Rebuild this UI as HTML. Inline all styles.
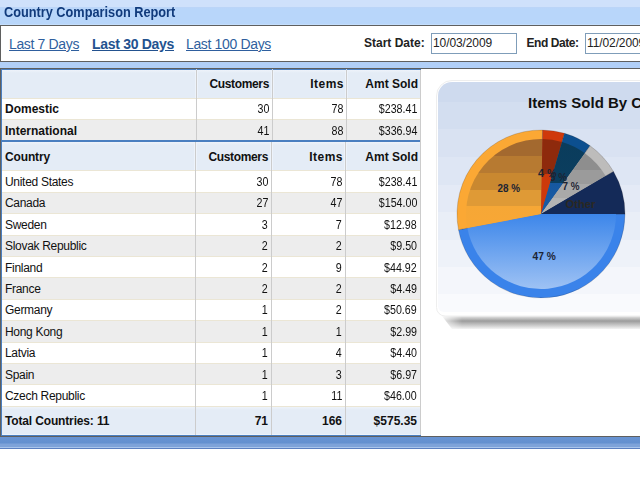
<!DOCTYPE html>
<html><head><meta charset="utf-8">
<style>
*{margin:0;padding:0;box-sizing:border-box}
html,body{width:640px;height:480px;overflow:hidden;background:#fff;font-family:"Liberation Sans",sans-serif;}
.a{position:absolute}
.hdr{left:0;top:0;width:640px;height:25px;background:linear-gradient(#cfe1fb 0,#cfe1fb 7px,#bcd5f7 7px,#b8d6fa 9px,#b8d6fa 24px,#c3defd 24px)}
.ttl{left:3.8px;top:4px;font-weight:bold;font-size:14px;letter-spacing:0;transform:scaleX(0.91);transform-origin:0 0;color:#113b7c;line-height:16px;white-space:nowrap}
.tb{left:0;top:25px;width:660px;height:37px;border:1px solid #5f5f5f;background:#fff}
.lk{top:36px;font-size:14px;letter-spacing:-0.35px;line-height:16px;color:#2f5f9e;text-decoration:underline;white-space:nowrap}
.lb{font-weight:bold;color:#23528f;letter-spacing:-0.3px}
.lbl{top:36px;font-size:12px;font-weight:bold;color:#222;line-height:14px;white-space:nowrap}
.inp{top:33px;height:21px;border:1px solid #7f9db9;background:#fff;font-size:12px;letter-spacing:-0.1px;color:#222;padding-left:1px;line-height:19px;white-space:nowrap;overflow:hidden}
.gap{left:0;top:62px;width:640px;height:6px;background:#b1cff7}
.hl{position:absolute;left:0;height:1px}
.vl{position:absolute;top:0;width:1px}
.t{position:absolute;font-size:12px;letter-spacing:-0.3px;color:#111;line-height:14px;white-space:nowrap}
.n{font-size:12px;letter-spacing:0;transform:scaleX(0.89);transform-origin:100% 50%}
.b.bn{letter-spacing:0}
.b.hh{letter-spacing:-0.35px}
.b{font-weight:bold;letter-spacing:-0.15px}
.r{text-align:right}
</style></head><body>
<div class="a hdr"></div>
<div class="a ttl">Country Comparison Report</div>
<div class="a tb"></div>
<div class="a lk" style="left:9px">Last 7 Days</div>
<div class="a lk lb" style="left:92px">Last 30 Days</div>
<div class="a lk" style="left:186px">Last 100 Days</div>
<div class="a lbl" style="left:364px">Start Date:</div>
<div class="a inp" style="left:431px;width:86px">10/03/2009</div>
<div class="a lbl" style="left:526.5px;letter-spacing:-0.45px">End Date:</div>
<div class="a inp" style="left:585px;width:86px">11/02/2009</div>
<div class="a gap"></div>
<div class="a" style="left:0;top:68px;width:640px;height:1px;background:#5f5f5f"></div>
<div class="a" style="left:0px;top:69px;width:421px;height:367px;background:#fff"></div>
<div class="a" style="left:2px;top:70px;width:418px;height:28px;background:linear-gradient(#eef3fa,#e4ecf6 3px,#e4ecf6)"></div>
<div class="a" style="left:2px;top:98px;width:418px;height:1px;background:#ebe6d5"></div>
<div class="a" style="left:2px;top:99px;width:418px;height:20px;background:#fff"></div>
<div class="a" style="left:2px;top:119px;width:418px;height:1px;background:#ebe6d5"></div>
<div class="a" style="left:2px;top:120px;width:418px;height:20px;background:#ededed"></div>
<div class="a" style="left:2px;top:140px;width:418px;height:2px;background:#4a7fc0"></div>
<div class="a" style="left:2px;top:142px;width:418px;height:28px;background:linear-gradient(#eef3fa,#e4ecf6 3px,#e4ecf6)"></div>
<div class="a" style="left:2px;top:170px;width:418px;height:1px;background:#ebe6d5"></div>
<div class="a" style="left:2px;top:171px;width:418px;height:21px;background:#fff"></div>
<div class="a" style="left:2px;top:192px;width:418px;height:1px;background:#ebe6d5"></div>
<div class="a" style="left:2px;top:193px;width:418px;height:20px;background:#ededed"></div>
<div class="a" style="left:2px;top:213px;width:418px;height:1px;background:#ebe6d5"></div>
<div class="a" style="left:2px;top:214px;width:418px;height:21px;background:#fff"></div>
<div class="a" style="left:2px;top:235px;width:418px;height:1px;background:#ebe6d5"></div>
<div class="a" style="left:2px;top:236px;width:418px;height:20px;background:#ededed"></div>
<div class="a" style="left:2px;top:256px;width:418px;height:1px;background:#ebe6d5"></div>
<div class="a" style="left:2px;top:257px;width:418px;height:20px;background:#fff"></div>
<div class="a" style="left:2px;top:277px;width:418px;height:1px;background:#ebe6d5"></div>
<div class="a" style="left:2px;top:278px;width:418px;height:21px;background:#ededed"></div>
<div class="a" style="left:2px;top:299px;width:418px;height:1px;background:#ebe6d5"></div>
<div class="a" style="left:2px;top:300px;width:418px;height:20px;background:#fff"></div>
<div class="a" style="left:2px;top:320px;width:418px;height:1px;background:#ebe6d5"></div>
<div class="a" style="left:2px;top:321px;width:418px;height:21px;background:#ededed"></div>
<div class="a" style="left:2px;top:342px;width:418px;height:1px;background:#ebe6d5"></div>
<div class="a" style="left:2px;top:343px;width:418px;height:20px;background:#fff"></div>
<div class="a" style="left:2px;top:363px;width:418px;height:1px;background:#ebe6d5"></div>
<div class="a" style="left:2px;top:364px;width:418px;height:20px;background:#ededed"></div>
<div class="a" style="left:2px;top:384px;width:418px;height:1px;background:#ebe6d5"></div>
<div class="a" style="left:2px;top:385px;width:418px;height:21px;background:#fff"></div>
<div class="a" style="left:2px;top:406px;width:418px;height:1px;background:#ebe6d5"></div>
<div class="a" style="left:2px;top:407px;width:418px;height:28px;background:linear-gradient(#eef3fa,#e4ecf6 3px,#e4ecf6)"></div>
<div class="a" style="left:2px;top:434px;width:418px;height:1px;background:#eef3fa"></div>
<div class="a" style="left:1px;top:435px;width:420px;height:1px;background:#4a7fc0"></div>
<div class="a" style="left:0px;top:68px;width:1px;height:369px;background:#5f5f5f"></div>
<div class="a" style="left:1px;top:69px;width:1px;height:367px;background:#4a7fc0"></div>
<div class="a" style="left:1px;top:69px;width:420px;height:1px;background:#4a7fc0"></div>
<div class="a" style="left:195px;top:70px;width:1px;height:28px;background:#edf3fb"></div>
<div class="a" style="left:197px;top:70px;width:1px;height:28px;background:#edf3fb"></div>
<div class="a" style="left:196px;top:69px;width:1px;height:1px;background:#c9d3df"></div>
<div class="a" style="left:196px;top:70px;width:1px;height:70px;background:#cccccc"></div>
<div class="a" style="left:271px;top:70px;width:1px;height:28px;background:#edf3fb"></div>
<div class="a" style="left:273px;top:70px;width:1px;height:28px;background:#edf3fb"></div>
<div class="a" style="left:272px;top:69px;width:1px;height:1px;background:#c9d3df"></div>
<div class="a" style="left:272px;top:70px;width:1px;height:70px;background:#cccccc"></div>
<div class="a" style="left:345px;top:70px;width:1px;height:28px;background:#edf3fb"></div>
<div class="a" style="left:347px;top:70px;width:1px;height:28px;background:#edf3fb"></div>
<div class="a" style="left:346px;top:69px;width:1px;height:1px;background:#c9d3df"></div>
<div class="a" style="left:346px;top:70px;width:1px;height:70px;background:#cccccc"></div>
<div class="a" style="left:194px;top:142px;width:1px;height:28px;background:#edf3fb"></div>
<div class="a" style="left:196px;top:142px;width:1px;height:28px;background:#edf3fb"></div>
<div class="a" style="left:195px;top:142px;width:1px;height:293px;background:#cccccc"></div>
<div class="a" style="left:270px;top:142px;width:1px;height:28px;background:#edf3fb"></div>
<div class="a" style="left:272px;top:142px;width:1px;height:28px;background:#edf3fb"></div>
<div class="a" style="left:271px;top:142px;width:1px;height:293px;background:#cccccc"></div>
<div class="a" style="left:344px;top:142px;width:1px;height:28px;background:#edf3fb"></div>
<div class="a" style="left:346px;top:142px;width:1px;height:28px;background:#edf3fb"></div>
<div class="a" style="left:345px;top:142px;width:1px;height:293px;background:#cccccc"></div>
<div class="a" style="left:420px;top:70px;width:1px;height:365px;background:#cccccc"></div>
<svg class="a" style="left:0;top:0" width="640" height="480" viewBox="0 0 640 480">
<defs>
<linearGradient id="pg" x1="0" y1="82" x2="0" y2="312" gradientUnits="userSpaceOnUse"><stop offset="0.0000" stop-color="#cedaee"/><stop offset="0.0870" stop-color="#cedaee"/><stop offset="0.0870" stop-color="#d3def0"/><stop offset="0.2065" stop-color="#d3def0"/><stop offset="0.2065" stop-color="#d9e2f2"/><stop offset="0.3261" stop-color="#d9e2f2"/><stop offset="0.3261" stop-color="#dee6f4"/><stop offset="0.4457" stop-color="#dee6f4"/><stop offset="0.4457" stop-color="#e4eaf6"/><stop offset="0.5652" stop-color="#e4eaf6"/><stop offset="0.5652" stop-color="#e9eef7"/><stop offset="0.6848" stop-color="#e9eef7"/><stop offset="0.6848" stop-color="#eef2f9"/><stop offset="0.8043" stop-color="#eef2f9"/><stop offset="0.8043" stop-color="#f4f6fb"/><stop offset="0.9239" stop-color="#f4f6fb"/><stop offset="0.9239" stop-color="#f9fafd"/><stop offset="1.0000" stop-color="#f9fafd"/></linearGradient>
<linearGradient id="ov" x1="0" y1="139" x2="0" y2="289" gradientUnits="userSpaceOnUse">
<stop offset="0" stop-color="#000" stop-opacity="0.39"/>
<stop offset="0.5" stop-color="#000" stop-opacity="0.0"/>
<stop offset="0.5" stop-color="#fff" stop-opacity="0.0"/>
<stop offset="1" stop-color="#fff" stop-opacity="0.5"/></linearGradient>
<linearGradient id="sh" x1="0" y1="315" x2="0" y2="330" gradientUnits="userSpaceOnUse">
<stop offset="0" stop-color="#fff"/><stop offset="0.1" stop-color="#e0e0e0"/><stop offset="0.4" stop-color="#9c9c9c"/><stop offset="0.65" stop-color="#c4c4c4"/><stop offset="1" stop-color="#fff"/></linearGradient>
<linearGradient id="shmg" x1="442" y1="0" x2="462" y2="0" gradientUnits="userSpaceOnUse"><stop offset="0" stop-color="#fff" stop-opacity="0.2"/><stop offset="1" stop-color="#fff"/></linearGradient>
<linearGradient id="gUS" x1="0" y1="214.00" x2="0" y2="289.00" gradientUnits="userSpaceOnUse"><stop offset="0" stop-color="#3c86ea"/><stop offset="1" stop-color="#9ec2f4"/></linearGradient><linearGradient id="gCA" x1="0" y1="139.00" x2="0" y2="228.11" gradientUnits="userSpaceOnUse"><stop offset="0" stop-color="#a3692f"/><stop offset="0.19" stop-color="#a3692f"/><stop offset="0.19" stop-color="#b77a31"/><stop offset="0.38" stop-color="#b77a31"/><stop offset="0.38" stop-color="#c98830"/><stop offset="0.57" stop-color="#c98830"/><stop offset="0.57" stop-color="#df9a36"/><stop offset="0.75" stop-color="#df9a36"/><stop offset="0.75" stop-color="#f6a736"/><stop offset="1" stop-color="#f8a735"/></linearGradient><linearGradient id="gSE" x1="0" y1="139.01" x2="0" y2="214.00" gradientUnits="userSpaceOnUse"><stop offset="0" stop-color="#8e2a0c"/><stop offset="0.47" stop-color="#8e2a0c"/><stop offset="0.47" stop-color="#cc390b"/><stop offset="1" stop-color="#cf390b"/></linearGradient><linearGradient id="gFI" x1="0" y1="142.00" x2="0" y2="214.00" gradientUnits="userSpaceOnUse"><stop offset="0" stop-color="#0a3c5c"/><stop offset="0.57" stop-color="#0b3e5f"/><stop offset="0.57" stop-color="#1658a0"/><stop offset="1" stop-color="#1a5ba6"/></linearGradient><linearGradient id="gCZ" x1="0" y1="153.16" x2="0" y2="214.00" gradientUnits="userSpaceOnUse"><stop offset="0" stop-color="#8e8e8e"/><stop offset="0.27" stop-color="#8e8e8e"/><stop offset="0.27" stop-color="#9b9b9b"/><stop offset="0.5" stop-color="#9b9b9b"/><stop offset="0.5" stop-color="#a9a9a9"/><stop offset="0.74" stop-color="#a9a9a9"/><stop offset="0.74" stop-color="#b4b4b4"/><stop offset="1" stop-color="#b4b4b4"/></linearGradient><linearGradient id="gOT" x1="0" y1="176.09" x2="0" y2="214.00" gradientUnits="userSpaceOnUse"><stop offset="0" stop-color="#142a58"/><stop offset="1" stop-color="#142a58"/></linearGradient>
</defs>
<mask id="shm" maskUnits="userSpaceOnUse" x="430" y="310" width="240" height="25"><rect x="430" y="310" width="240" height="25" fill="url(#shmg)"/></mask>
<polygon points="442,316 660,316 660,329 452,329" fill="url(#sh)" mask="url(#shm)"/>
<path d="M436.5,96 A15.5,15.5 0 0 1 452,80.5 L680,80.5 L680,316 L445,316 A8.5,8.5 0 0 1 436.5,307.5 Z" fill="#fff" stroke="#eeeeee" stroke-width="1"/>
<path d="M438,96 A14,14 0 0 1 452,82 L680,82 L680,312 L444,312 A6,6 0 0 1 438,306 Z" fill="url(#pg)"/>
<text x="528" y="108" font-family="Liberation Sans" font-weight="bold" font-size="15" fill="#111">Items Sold By Country</text>
<g stroke="rgba(40,30,20,0.3)" stroke-width="0.6"><path d="M541,214 L625.00,214.00 A84,84 0 0 1 458.50,229.80 Z" fill="#3a83ea"/><path d="M541,214 L458.50,229.80 A84,84 0 0 1 542.59,130.02 Z" fill="#fba834"/><path d="M541,214 L542.59,130.02 A84,84 0 0 1 564.53,133.36 Z" fill="#cf390b"/><path d="M541,214 L564.53,133.36 A84,84 0 0 1 590.12,145.86 Z" fill="#0c4f8f"/><path d="M541,214 L590.12,145.86 A84,84 0 0 1 613.48,171.54 Z" fill="#bdbcbb"/><path d="M541,214 L613.48,171.54 A84,84 0 0 1 625.00,214.00 Z" fill="#142a58"/></g>
<g><path d="M541,214 L616.00,214.00 A75,75 0 0 1 467.34,228.11 Z" fill="url(#gUS)"/><path d="M541,214 L467.34,228.11 A75,75 0 0 1 542.42,139.01 Z" fill="url(#gCA)"/><path d="M541,214 L542.42,139.01 A75,75 0 0 1 562.01,142.00 Z" fill="url(#gSE)"/><path d="M541,214 L562.01,142.00 A75,75 0 0 1 584.85,153.16 Z" fill="url(#gFI)"/><path d="M541,214 L584.85,153.16 A75,75 0 0 1 605.71,176.09 Z" fill="url(#gCZ)"/><path d="M541,214 L605.71,176.09 A75,75 0 0 1 616.00,214.00 Z" fill="url(#gOT)"/></g>
<g font-family="Liberation Sans" font-weight="bold" font-size="11" fill="#1c2433" lengthAdjust="spacingAndGlyphs">
<text x="497.5" y="192" textLength="22.5" lengthAdjust="spacingAndGlyphs">28 %</text>
<text x="532.5" y="260" textLength="23.3" lengthAdjust="spacingAndGlyphs">47 %</text>
<text x="538" y="177" textLength="18.5" lengthAdjust="spacingAndGlyphs">4 %</text>
<text x="550" y="180.5" textLength="17" lengthAdjust="spacingAndGlyphs">5 %</text>
<text x="562.5" y="190" textLength="17" lengthAdjust="spacingAndGlyphs">7 %</text>
</g>
<text x="565.5" y="208" font-family="Liberation Sans" font-weight="bold" font-size="11" fill="#2a2822" textLength="30" lengthAdjust="spacingAndGlyphs">Other</text>
</svg>
<div class="t b" style="left:5px;top:77px"></div>
<div class="t r b hh" style="letter-spacing:-0.35px;right:371px;top:77px">Customers</div>
<div class="t r b hh" style="letter-spacing:0.5px;right:296px;top:77px">Items</div>
<div class="t r b hh" style="letter-spacing:0.0px;right:222px;top:77px">Amt Sold</div>
<div class="t b" style="letter-spacing:0;left:5px;top:102px">Domestic</div>
<div class="t r n" style="right:371px;top:102px">30</div>
<div class="t r n" style="right:297px;top:102px">78</div>
<div class="t r n" style="right:223px;top:102px">$238.41</div>
<div class="t b" style="letter-spacing:0;left:5px;top:124px">International</div>
<div class="t r n" style="right:371px;top:124px">41</div>
<div class="t r n" style="right:297px;top:124px">88</div>
<div class="t r n" style="right:223px;top:124px">$336.94</div>
<div class="t b" style="left:5px;top:150px">Country</div>
<div class="t r b hh" style="letter-spacing:-0.35px;right:372px;top:150px">Customers</div>
<div class="t r b hh" style="letter-spacing:0.5px;right:297px;top:150px">Items</div>
<div class="t r b hh" style="letter-spacing:0.0px;right:222px;top:150px">Amt Sold</div>
<div class="t" style="left:5px;top:175px">United States</div>
<div class="t r n" style="right:372px;top:175px">30</div>
<div class="t r n" style="right:298px;top:175px">78</div>
<div class="t r n" style="right:223px;top:175px">$238.41</div>
<div class="t" style="left:5px;top:196px">Canada</div>
<div class="t r n" style="right:372px;top:196px">27</div>
<div class="t r n" style="right:298px;top:196px">47</div>
<div class="t r n" style="right:223px;top:196px">$154.00</div>
<div class="t" style="left:5px;top:218px">Sweden</div>
<div class="t r n" style="right:372px;top:218px">3</div>
<div class="t r n" style="right:298px;top:218px">7</div>
<div class="t r n" style="right:223px;top:218px">$12.98</div>
<div class="t" style="left:5px;top:239px">Slovak Republic</div>
<div class="t r n" style="right:372px;top:239px">2</div>
<div class="t r n" style="right:298px;top:239px">2</div>
<div class="t r n" style="right:223px;top:239px">$9.50</div>
<div class="t" style="left:5px;top:261px">Finland</div>
<div class="t r n" style="right:372px;top:261px">2</div>
<div class="t r n" style="right:298px;top:261px">9</div>
<div class="t r n" style="right:223px;top:261px">$44.92</div>
<div class="t" style="left:5px;top:282px">France</div>
<div class="t r n" style="right:372px;top:282px">2</div>
<div class="t r n" style="right:298px;top:282px">2</div>
<div class="t r n" style="right:223px;top:282px">$4.49</div>
<div class="t" style="left:5px;top:303px">Germany</div>
<div class="t r n" style="right:372px;top:303px">1</div>
<div class="t r n" style="right:298px;top:303px">2</div>
<div class="t r n" style="right:223px;top:303px">$50.69</div>
<div class="t" style="left:5px;top:325px">Hong Kong</div>
<div class="t r n" style="right:372px;top:325px">1</div>
<div class="t r n" style="right:298px;top:325px">1</div>
<div class="t r n" style="right:223px;top:325px">$2.99</div>
<div class="t" style="left:5px;top:346px">Latvia</div>
<div class="t r n" style="right:372px;top:346px">1</div>
<div class="t r n" style="right:298px;top:346px">4</div>
<div class="t r n" style="right:223px;top:346px">$4.40</div>
<div class="t" style="left:5px;top:368px">Spain</div>
<div class="t r n" style="right:372px;top:368px">1</div>
<div class="t r n" style="right:298px;top:368px">3</div>
<div class="t r n" style="right:223px;top:368px">$6.97</div>
<div class="t" style="left:5px;top:389px">Czech Republic</div>
<div class="t r n" style="right:372px;top:389px">1</div>
<div class="t r n" style="right:298px;top:389px">11</div>
<div class="t r n" style="right:223px;top:389px">$46.00</div>
<div class="t b" style="left:5px;top:414px">Total Countries: 11</div>
<div class="t r b bn" style="right:372px;top:414px">71</div>
<div class="t r b bn" style="right:298px;top:414px">166</div>
<div class="t r b bn" style="right:223px;top:414px">$575.35</div>
<div class="a" style="left:0;top:436px;width:640px;height:1px;background:#5f5f5f"></div>
<div class="a" style="left:0;top:437px;width:640px;height:12px;background:linear-gradient(#6893d2 0,#6390cf 6px,#7ea3d9 7px,#7ea3d9 10px,#a9c5eb 10px,#a9c5eb 11px,#5b80c0 11px)"></div>
</body></html>
